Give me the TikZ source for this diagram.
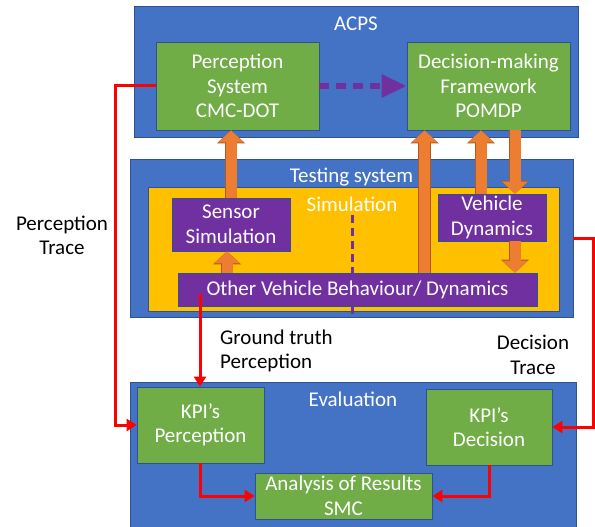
\documentclass[tikz,border=0pt]{standalone}
\usepackage{fontspec}
\setmainfont{Carlito}
\usetikzlibrary{arrows.meta,calc}
\definecolor{cblue}{HTML}{4472C4}
\definecolor{cblueb}{HTML}{2F528F}
\definecolor{cgreen}{HTML}{70AD47}
\definecolor{cyellow}{HTML}{FFC000}
\definecolor{cpurple}{HTML}{7030A0}
\definecolor{corange}{HTML}{ED7D31}
\definecolor{corangeb}{HTML}{AE5A21}
\definecolor{cred}{HTML}{FF0000}
\tikzset{
  box/.style={inner sep=0pt, draw=cblueb, line width=0.8pt, text=white, align=center,
    font=\fontsize{21}{24.5}\selectfont},
  container/.style={box, fill=cblue},
  greenbox/.style={box, fill=cgreen},
  purplebox/.style={box, fill=cpurple},
  yellowbox/.style={box, fill=cyellow},
  boxlabel/.style={text=white, font=\fontsize{21}{24.5}\selectfont, inner sep=0pt},
  outlabel/.style={text=black, font=\fontsize{21}{24.5}\selectfont, inner sep=0pt, align=center},
  oarrow/.style={corange, line width=11pt, -{Triangle[length=12pt,width=25pt]},
    preaction={draw=corangeb, line width=12.6pt, -{Triangle[length=13pt,width=27.6pt]}}},
  redarrow/.style={cred, line width=3pt, line join=miter, -{Triangle[length=10pt,width=12pt]}},
}
\begin{document}
\begin{tikzpicture}[x=1pt,y=-1pt]
\useasboundingbox (0,0) rectangle (595,527);
% containers
\node[container, minimum width=444pt, minimum height=131pt] (acps) at (356,71.5) {};
\node[boxlabel] (acpsl) at (356,24) {ACPS};
\node[container, minimum width=443pt, minimum height=158pt] (test) at (351.5,238) {};
\node[yellowbox, minimum width=411pt, minimum height=124pt] (sim) at (353.5,249) {};
\node[boxlabel] (testl) at (351.5,177) {Testing system};
\node[boxlabel] (siml) at (352,204) {Simulation};
\node[container, minimum width=446pt, minimum height=148pt] (eval) at (353,456) {};
\node[boxlabel] (evall) at (353,399) {Evaluation};
% inner boxes
\node[greenbox, minimum width=163pt, minimum height=88pt] (perc) at (237.5,86) {Perception\\System\\CMC-DOT};
\node[greenbox, minimum width=163pt, minimum height=88pt] (dec) at (488.5,86) {Decision-making\\Framework\\POMDP};
\node[purplebox, minimum width=118pt, minimum height=53pt] (sensor) at (231,224.5) {Sensor\\Simulation};
\node[purplebox, minimum width=108pt, minimum height=47pt] (vd) at (492,217.5) {Vehicle\\Dynamics};
% dashed purple divider
\coordinate (ds) at (352,215);
\coordinate (de) at (352,317);
\draw[cpurple, line width=3pt, dash pattern=on 8pt off 5pt] (ds) -- (de);
\node[purplebox, minimum width=359pt, minimum height=33pt] (other) at (357.5,289.5) {Other Vehicle Behaviour/ Dynamics};
\node[greenbox, minimum width=127pt, minimum height=76pt] (kpip) at (200.5,425) {KPI’s\\Perception};
\node[greenbox, minimum width=126pt, minimum height=76pt] (kpid) at (489,427) {KPI’s\\Decision};
\node[greenbox, minimum width=177pt, minimum height=46pt] (ana) at (343.5,496) {Analysis of Results\\SMC};
% outside labels
\node[outlabel] (ptl) at (62,235.5) {Perception\\Trace};
\node[outlabel, anchor=west, align=left] (gtl) at (220,351) {Ground truth\\Perception};
\node[outlabel] (dtl) at (533,355) {Decision\\Trace};
% dotted purple arrow
\draw[cpurple, line width=6pt, dash pattern=on 10pt off 7pt, -{Triangle[length=25pt,width=22pt]}] (perc.east) -- (dec.west);
% orange arrows
\coordinate (a2) at ([xshift=18pt]dec.south west);
\coordinate (a3) at ([xshift=-11pt]vd.north);
\coordinate (a4) at ([xshift=23pt]vd.north);
\coordinate (a5) at ([xshift=-4pt]sensor.south);
\coordinate (a6) at ([xshift=23pt]vd.south);
\draw[oarrow] (sensor.north) -- (sensor.north |- perc.south);
\draw[oarrow] (other.north -| a2) -- (a2);
\draw[oarrow] (a3) -- (a3 |- dec.south);
\draw[oarrow] (a4 |- dec.south) -- (a4);
\draw[oarrow] (a5 |- other.north) -- (a5);
\draw[oarrow] (a6) -- (a6 |- other.north);
% red arrows
\coordinate (pt) at (115,86);
\draw[redarrow] (perc.west) -- (pt) |- (kpip.west);
\coordinate (gt) at (200,294);
\draw[redarrow] (gt) -- (gt |- kpip.north);
\coordinate (dt) at (573,238);
\draw[redarrow] (dt) -- ++(20,0) |- (kpid.east);
\draw[redarrow] (kpip.south) |- (ana.west);
\draw[redarrow] (kpid.south) |- (ana.east);
\end{tikzpicture}
\end{document}
